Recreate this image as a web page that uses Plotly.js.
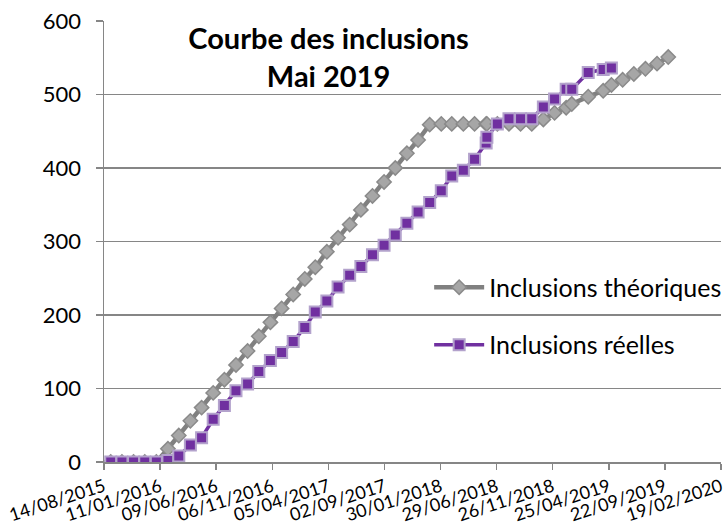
<!DOCTYPE html>
<html>
<head>
<meta charset="utf-8">
<script src="https://cdn.plot.ly/plotly-3.0.1.min.js"></script>
<style>html,body{margin:0;padding:0;background:#fff;}#chart{width:728px;height:531px;}</style>
</head>
<body>
<div id="chart"></div>
<script>
var dates = [
  '2015-09-01','2015-10-01','2015-11-01','2015-12-01',
  '2016-01-01','2016-02-01','2016-03-01','2016-04-01','2016-05-01','2016-06-01',
  '2016-07-01','2016-08-01','2016-09-01','2016-10-01','2016-11-01','2016-12-01',
  '2017-01-01','2017-02-01','2017-03-01','2017-04-01','2017-05-01','2017-06-01',
  '2017-07-01','2017-08-01','2017-09-01','2017-10-01','2017-11-01','2017-12-01',
  '2018-01-01','2018-02-01','2018-03-01','2018-04-01','2018-05-01','2018-06-01',
  '2018-06-03','2018-07-01','2018-08-01','2018-09-01','2018-10-01','2018-11-01',
  '2018-12-01','2019-01-01','2019-01-16','2019-03-01','2019-04-10','2019-05-02'
];
var theoDatesExtra = ['2019-06-01','2019-07-01','2019-08-01','2019-09-01','2019-10-01'];

var theoriques = [
  0,0,0,0,
  0,18,36,56,74,94,
  112,132,151,171,190,209,
  228,249,265,286,305,323,
  343,362,381,400,420,438,
  459,460,460,460,460,460,
  460,460,460,460,460,466,
  475,482,487,497,505,513
];
var theoExtra = [520,528,535,542,551];

var reelles = [
  0,0,0,0,
  0,2,8,23,33,58,
  77,97,106,123,138,149,
  164,183,204,219,238,254,
  266,282,295,309,325,340,
  353,369,389,397,412,434,
  442,460,467,467,467,483,
  494,507,507,530,534,536
];

var seriesNames = ['Inclusions théoriques','Inclusions réelles'];
var xTickStart = '2015-08-14';
var xEnd = '2020-02-19 02:00';

var FONT = 'Lato, "Open Sans", sans-serif';

var traces = [
  {
    x: dates.concat(theoDatesExtra),
    y: theoriques.concat(theoExtra),
    name: seriesNames[0],
    type: 'scatter',
    mode: 'lines+markers',
    legendgroup: 'a',
    line: {color: '#808080', width: 4.5},
    marker: {symbol: 'diamond', size: 11, color: '#A6A6A6', line: {color: '#8A8A8A', width: 1.5}}
  },
  {
    x: dates,
    y: reelles,
    name: seriesNames[1],
    type: 'scatter',
    mode: 'lines+markers',
    legendgroup: 'b',
    line: {color: '#7030A0', width: 3.5},
    marker: {symbol: 'square', size: 11, color: '#7030A0', line: {color: '#B3A2CC', width: 2}}
  }
];

var layout = {
  width: 728,
  height: 531,
  margin: {l: 104, r: 1, t: 21, b: 69},
  paper_bgcolor: '#ffffff',
  plot_bgcolor: '#ffffff',
  font: {family: FONT, color: '#000000'},
  title: {
    text: '<b>Courbe des inclusions<br>Mai 2019</b>',
    font: {family: FONT, size: 29, color: '#000000'},
    x: 0.364, xref: 'paper', xanchor: 'center',
    y: 0.907, yref: 'container', yanchor: 'top'
  },
  xaxis: {
    type: 'date',
    range: [xTickStart, xEnd],
    tick0: xTickStart,
    dtick: 150 * 86400000,
    tickformat: '%d/%m/%Y',
    tickangle: -18,
    tickfont: {family: FONT, size: 18, color: '#000000'},
    ticklabeloverflow: 'allow',
    showgrid: false,
    showline: true,
    linecolor: '#868686',
    linewidth: 1.5,
    ticks: 'outside',
    ticklen: 6,
    tickcolor: '#868686',
    tickwidth: 1.5,
    zeroline: false,
    fixedrange: true
  },
  yaxis: {
    range: [0, 600],
    dtick: 100,
    tick0: 0,
    tickfont: {family: FONT, size: 22, color: '#000000'},
    showgrid: true,
    gridcolor: '#868686',
    gridwidth: 1.5,
    showline: true,
    linecolor: '#868686',
    linewidth: 1.5,
    ticks: 'outside',
    ticklen: 7,
    tickcolor: '#868686',
    tickwidth: 1.5,
    zeroline: false,
    ticklabelstandoff: 10,
    fixedrange: true
  },
  showlegend: true,
  legend: {
    x: 0.527, xanchor: 'left',
    y: 0.448, yanchor: 'top',
    bgcolor: 'rgba(0,0,0,0)',
    font: {family: FONT, size: 25, color: '#000000'},
    itemwidth: 50,
    traceorder: 'grouped',
    tracegroupgap: 22
  }
};

Plotly.newPlot('chart', traces, layout, {displayModeBar: false, staticPlot: true});
</script>
</body>
</html>
